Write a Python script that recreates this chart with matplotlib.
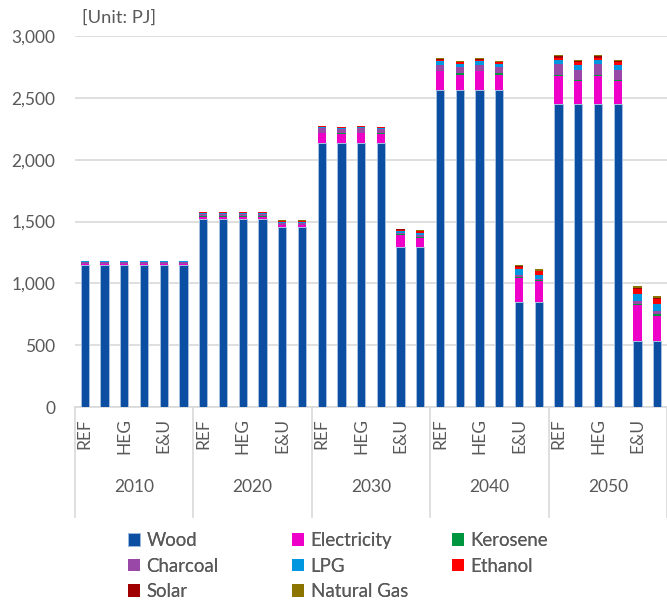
import matplotlib
matplotlib.use("Agg")
import matplotlib.pyplot as plt
import matplotlib.transforms as mtransforms
import numpy as np

plt.rcParams['font.family'] = ['Lato', 'DejaVu Sans']

years = ["2010", "2020", "2030", "2040", "2050"]
scen_labels = ["REF", "", "HEG", "", "E&U", ""]

series_names = ["Wood", "Electricity", "Kerosene", "Charcoal", "LPG", "Ethanol", "Solar", "Natural Gas"]
colors = ["#0B4EA2", "#EE00C8", "#00963F", "#9A48A8", "#0096E0", "#FF0000", "#A00000", "#8B7500"]

wood = [1148, 1148, 1148, 1148, 1148, 1148,
        1518, 1518, 1518, 1518, 1452, 1452,
        2135, 2135, 2135, 2135, 1292, 1292,
        2565, 2565, 2565, 2565, 852, 852,
        2450, 2450, 2450, 2450, 534, 534]
electricity = [8, 8, 8, 8, 8, 8,
               20, 20, 20, 20, 18, 18,
               80, 70, 80, 70, 100, 78,
               148, 120, 148, 120, 195, 170,
               228, 186, 228, 186, 290, 205]
kerosene = [2, 2, 2, 2, 2, 2,
            3, 3, 3, 3, 2, 2,
            3, 10, 3, 10, 3, 5,
            5, 13, 5, 13, 5, 5,
            10, 10, 10, 10, 5, 10]
charcoal = [18, 18, 18, 18, 18, 18,
            22, 22, 22, 22, 14, 14,
            40, 35, 40, 35, 12, 15,
            48, 48, 48, 48, 15, 10,
            82, 80, 82, 80, 30, 26]
lpg = [2, 2, 2, 2, 2, 2,
       8, 8, 8, 8, 8, 8,
       8, 8, 8, 8, 18, 20,
       28, 24, 28, 24, 45, 33,
       37, 38, 37, 38, 52, 57]
ethanol = [0, 0, 0, 0, 0, 0,
           2, 2, 2, 2, 10, 10,
           3, 3, 3, 3, 8, 10,
           13, 16, 13, 16, 22, 27,
           18, 22, 18, 22, 40, 38]
solar = [5, 5, 5, 5, 5, 5,
         2, 2, 2, 2, 3, 3,
         2, 2, 2, 2, 4, 5,
         5, 5, 5, 5, 8, 6,
         10, 8, 10, 8, 12, 12]
natural_gas = [1, 1, 1, 1, 1, 1,
               5, 5, 5, 5, 3, 3,
               4, 3, 4, 3, 4, 4,
               8, 8, 8, 8, 10, 12,
               12, 8, 12, 8, 15, 14]

data = [wood, electricity, kerosene, charcoal, lpg, ethanol, solar, natural_gas]

text_color = "#595959"
grid_color = "#D9D9D9"

fig = plt.figure(figsize=(6.67, 6.0), dpi=100)
ax = fig.add_axes([75 / 667, (600 - 407) / 600, 592 / 667, (407 - 36) / 600])

n = len(wood)
x = np.arange(n)
bottom = np.zeros(n)
handles = []
for i, (name, vals, c) in enumerate(zip(series_names, data, colors)):
    v = np.array(vals, dtype=float)
    if i == 0:
        h = ax.bar(x, v, width=0.42, bottom=bottom, color=c, edgecolor="#A9C4E4",
                   linewidth=0.6, label=name, zorder=3)
    else:
        h = ax.bar(x, v, width=0.42, bottom=bottom, color=c, linewidth=0,
                   label=name, zorder=3)
    handles.append(h)
    bottom += v

ax.set_xlim(-0.5, n - 0.5)
ax.set_ylim(0, 3000)
yt = np.arange(0, 3001, 500)
ax.set_yticks(yt)
ax.set_yticklabels([f"{int(t):,}" for t in yt])
ax.yaxis.grid(True, color=grid_color, linewidth=1.2, zorder=0)
ax.set_axisbelow(True)
for s in ["top", "right", "left"]:
    ax.spines[s].set_visible(False)
ax.spines["bottom"].set_color(grid_color)
ax.spines["bottom"].set_linewidth(1.2)
ax.tick_params(axis="y", length=0, pad=14, labelsize=12.5, labelcolor=text_color)

ax.set_xticks(x)
ax.set_xticklabels(scen_labels * len(years), rotation=90, va="top")
ax.tick_params(axis="x", length=0, pad=8, labelsize=12.5, labelcolor=text_color)

trans = mtransforms.blended_transform_factory(ax.transData, ax.transAxes)
bottom_frac = -(517 - 407) / 371
for g in range(len(years) + 1):
    xb = g * 6 - 0.5
    ax.plot([xb, xb], [0, bottom_frac], transform=trans, color=grid_color,
            linewidth=1.2, clip_on=False)
for g, yr in enumerate(years):
    ax.text(g * 6 + 2.5, -(487 - 407) / 371, yr, transform=trans, ha="center",
            va="center", fontsize=12.5, color=text_color)

fig.text(82 / 667, 1 - 18 / 600, "[Unit: PJ]", ha="left", va="center",
         fontsize=13.2, color=text_color)

columns = [[0, 3, 6], [1, 4, 7], [2, 5]]
col_x = [128, 292, 452]
for cols, cx in zip(columns, col_x):
    lg = fig.legend([handles[i] for i in cols], [series_names[i] for i in cols],
                    ncol=1, loc="upper left", bbox_to_anchor=(cx / 667, 1 - 532 / 600),
                    frameon=False, fontsize=13.4, handlelength=0.65, handleheight=0.65,
                    handletextpad=0.35, labelspacing=0.46, borderpad=0,
                    borderaxespad=0, labelcolor=text_color)
    fig.add_artist(lg)

fig.savefig("out.png", dpi=100)
